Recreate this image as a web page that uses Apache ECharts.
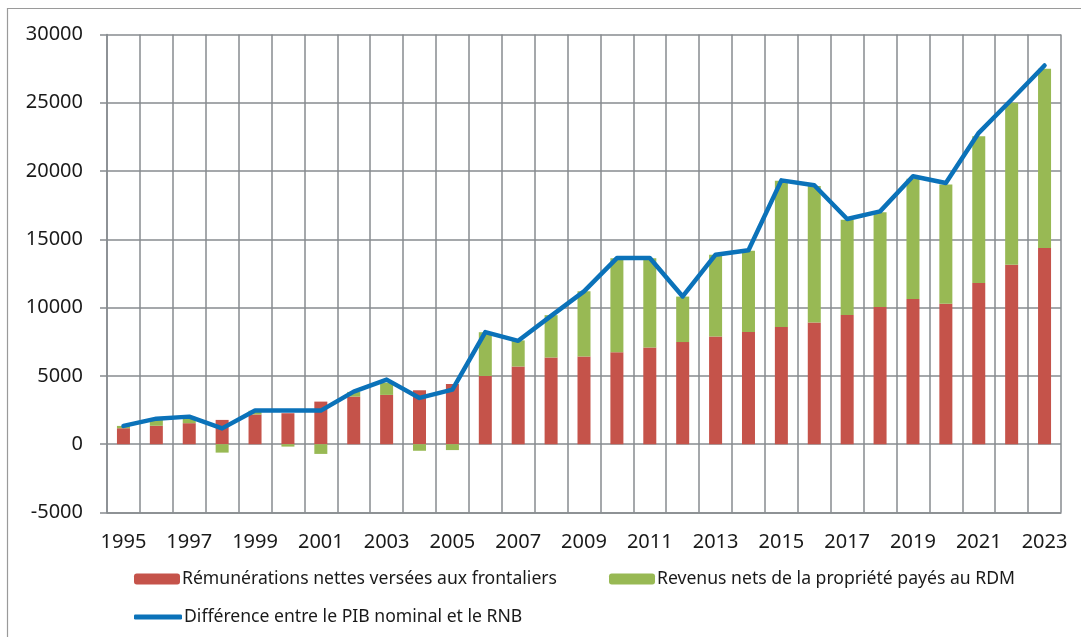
<!DOCTYPE html>
<html>
<head>
<meta charset="utf-8">
<script src="https://cdn.jsdelivr.net/npm/echarts@6/dist/echarts.min.js"></script>
<style>
html,body{margin:0;padding:0;background:#fff;}
#chart{width:1081px;height:637px;}
</style>
</head>
<body>
<div id="chart"></div>
<script>
var years = ['1995','1996','1997','1998','1999','2000','2001','2002','2003','2004','2005','2006','2007','2008','2009','2010','2011','2012','2013','2014','2015','2016','2017','2018','2019','2020','2021','2022','2023'];
var remunerations = [1170,1350,1540,1780,2180,2270,3120,3490,3610,3950,4410,5000,5690,6350,6420,6740,7080,7480,7890,8210,8580,8910,9460,10040,10630,10280,11800,13140,14370];
var revenusPropriete = [170,500,460,-615,270,-175,-710,340,900,-480,-430,3200,1910,3100,4780,6880,6540,3330,5980,5960,10720,9990,6980,6940,8800,8730,10750,11860,13120];
var difference = [1340,1870,2020,1160,2470,2470,2460,3850,4730,3390,4000,8210,7570,9400,11190,13630,13630,10820,13880,14200,19320,18960,16490,17050,19620,19130,22800,25240,27730];
var yTicks = {min: -5000, max: 30000, interval: 5000};

var names = ['Rémunérations nettes versées aux frontaliers','Revenus nets de la propriété payés au RDM','Différence entre le PIB nominal et le RNB'];
var gridColor = '#878b8f';
var font = 'Noto Sans';
var legendText = {fontFamily: font, fontSize: 17.6, color: '#1a1a1a', lineHeight: 22, padding: [0, 0, 0, -3]};

var chart = echarts.init(document.getElementById('chart'), null, {renderer: 'canvas'});
chart.setOption({
  animation: false,
  backgroundColor: '#fff',
  graphic: [{
    type: 'rect',
    shape: {x: 7.5, y: 8.5, width: 1200, height: 800},
    style: {fill: 'none', stroke: '#9a9a9a', lineWidth: 1.2},
    silent: true, z: -1
  }],
  grid: {left: 107, right: 20, top: 34.5, bottom: 124.5, containLabel: false},
  legend: [
    {data: [names[0]], left: 134, top: 568, padding: 0, itemWidth: 46, itemHeight: 11, textStyle: legendText},
    {data: [names[1]], left: 609, top: 568, padding: 0, itemWidth: 46, itemHeight: 11, textStyle: legendText},
    {data: [names[2]], left: 134, top: 606, padding: 0, itemWidth: 48, itemHeight: 5, icon: 'roundRect', textStyle: legendText}
  ],
  xAxis: {
    type: 'category',
    data: years,
    boundaryGap: true,
    axisLine: {show: true, onZero: false, lineStyle: {color: gridColor, width: 1.5}},
    axisTick: {show: false},
    axisLabel: {interval: 1, fontFamily: font, fontSize: 20, color: '#1a1a1a', margin: 20},
    splitLine: {show: true, interval: 0, lineStyle: {color: gridColor, width: 1.5}}
  },
  yAxis: {
    type: 'value',
    min: yTicks.min, max: yTicks.max, interval: yTicks.interval,
    axisLine: {show: true, lineStyle: {color: gridColor, width: 1.5}},
    axisTick: {show: true, length: 7, lineStyle: {color: gridColor, width: 1.5}},
    axisLabel: {fontFamily: font, fontSize: 20, color: '#1a1a1a', margin: 24,
      formatter: function (v) { return String(v); }},
    splitLine: {show: true, lineStyle: {color: gridColor, width: 1.5}}
  },
  series: [
    {name: names[0], type: 'bar', stack: 'total', data: remunerations, barWidth: 13,
     itemStyle: {color: '#c5534a'}, z: 2},
    {name: names[1], type: 'bar', stack: 'total', data: revenusPropriete, barWidth: 13,
     itemStyle: {color: '#98b954'}, z: 2},
    {name: names[2], type: 'line', data: difference, symbol: 'none', showSymbol: false,
     lineStyle: {color: '#0b72b9', width: 4.5, cap: 'round', join: 'round'},
     itemStyle: {color: '#0b72b9'}, z: 5}
  ]
});
</script>
</body>
</html>
